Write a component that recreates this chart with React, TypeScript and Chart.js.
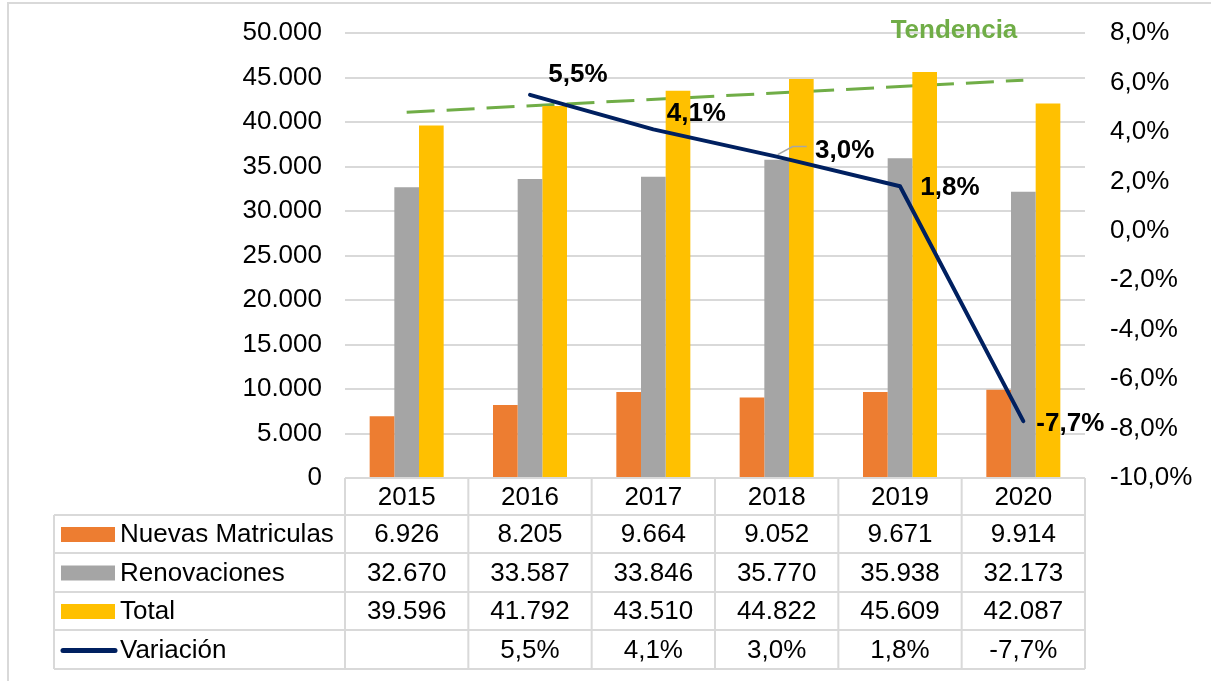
import React, { useEffect, useRef } from "react";
import { Chart, registerables } from "chart.js";
Chart.register(...registerables);

const years = ["2015", "2016", "2017", "2018", "2019", "2020"];
const nuevas = [6926, 8205, 9664, 9052, 9671, 9914];
const renovaciones = [32670, 33587, 33846, 35770, 35938, 32173];
const total = [39596, 41792, 43510, 44822, 45609, 42087];
const variacion: (number | null)[] = [null, 5.5, 4.1, 3.0, 1.8, -7.7];
// trendline end points (drawn straight between them)
const tendencia: (number | null)[] = [41100, null, null, null, null, 44700];
const seriesNames = ["Nuevas Matriculas", "Renovaciones", "Total", "Variación"];
const trendName = "Tendencia";

const FONT = "'Liberation Sans', Arial, sans-serif";
const C_ORANGE = "#ed7d31";
const C_GRAY = "#a5a5a5";
const C_YELLOW = "#ffc000";
const C_NAVY = "#002060";
const C_GREEN = "#70ad47";
const C_GRID = "#d9d9d9";

const labelOffsets: ([number, number] | null)[] = [null, [48, -20], [43, -16], [68, -6], [50, 2], [47, 3]];

const fmtThousands = (n: number) => String(n).replace(/\B(?=(\d{3})+(?!\d))/g, ".");
const fmtPct = (n: number) => n.toFixed(1).replace(".", ",") + "%";

const tablePlugin = {
  id: "tablePlugin",
  afterDatasetsDraw(chart: any) {
    const ctx = chart.ctx;
    const meta = chart.getDatasetMeta(3);
    ctx.save();
    ctx.font = `bold 26px ${FONT}`;
    ctx.fillStyle = "#000";
    ctx.textAlign = "center";
    ctx.textBaseline = "middle";
    meta.data.forEach((pt: any, i: number) => {
      const v = variacion[i];
      const off = labelOffsets[i];
      if (v == null || !off) return;
      if (i === 3) {
        ctx.strokeStyle = "#a6a6a6";
        ctx.lineWidth = 1.5;
        ctx.beginPath();
        ctx.moveTo(pt.x + 1, pt.y - 2);
        ctx.lineTo(pt.x + 16, pt.y - 10);
        ctx.lineTo(pt.x + 30, pt.y - 10);
        ctx.stroke();
      }
      ctx.fillText(fmtPct(v), pt.x + off[0], pt.y + off[1]);
    });
    // Tendencia label
    const xs = chart.scales.x;
    ctx.fillStyle = C_GREEN;
    ctx.fillText(trendName, xs.getPixelForValue(4) + 54, chart.chartArea.top - 2);
    ctx.restore();
  },
  afterDraw(chart: any) {
    const ctx = chart.ctx;
    const area = chart.chartArea;
    const colW = (area.right - area.left) / years.length;
    const tableLeft = 54;
    const top = area.bottom;
    const rows = [top, top + 37, top + 75, top + 114, top + 152, top + 191];
    ctx.save();
    ctx.strokeStyle = C_GRID;
    ctx.lineWidth = 2;
    // frame
    ctx.beginPath();
    ctx.moveTo(8, 681);
    ctx.lineTo(8, 3);
    ctx.lineTo(1211, 3);
    ctx.stroke();
    ctx.beginPath();
    ctx.moveTo(area.left, rows[0]);
    ctx.lineTo(area.right, rows[0]);
    for (let r = 1; r < rows.length; r++) {
      ctx.moveTo(tableLeft, rows[r]);
      ctx.lineTo(area.right, rows[r]);
    }
    ctx.moveTo(tableLeft, rows[1]);
    ctx.lineTo(tableLeft, rows[rows.length - 1]);
    for (let c = 0; c <= years.length; c++) {
      const x = area.left + c * colW;
      ctx.moveTo(x, rows[0]);
      ctx.lineTo(x, rows[rows.length - 1]);
    }
    ctx.stroke();

    ctx.fillStyle = "#000";
    ctx.font = `26px ${FONT}`;
    ctx.textBaseline = "middle";
    ctx.textAlign = "center";
    const mid = (r: number) => (rows[r] + rows[r + 1]) / 2 + 1;
    years.forEach((y, i) => ctx.fillText(y, area.left + (i + 0.5) * colW, mid(0)));
    const tableRows: { name: string; vals: (number | null)[]; fmt: (n: number) => string; color: string; line?: boolean }[] = [
      { name: seriesNames[0], vals: nuevas, fmt: fmtThousands, color: C_ORANGE },
      { name: seriesNames[1], vals: renovaciones, fmt: fmtThousands, color: C_GRAY },
      { name: seriesNames[2], vals: total, fmt: fmtThousands, color: C_YELLOW },
      { name: seriesNames[3], vals: variacion, fmt: fmtPct, color: C_NAVY, line: true },
    ];
    tableRows.forEach((row, r) => {
      const cy = mid(r + 1);
      if (row.line) {
        ctx.strokeStyle = row.color;
        ctx.lineWidth = 5;
        ctx.lineCap = "round";
        ctx.beginPath();
        ctx.moveTo(63, cy);
        ctx.lineTo(115, cy);
        ctx.stroke();
      } else {
        ctx.fillStyle = row.color;
        ctx.fillRect(61, cy - 8, 54, 15);
      }
      ctx.fillStyle = "#000";
      ctx.textAlign = "left";
      ctx.fillText(row.name, 120, cy);
      ctx.textAlign = "center";
      row.vals.forEach((v, i) => {
        if (v == null) return;
        ctx.fillText(row.fmt(v), area.left + (i + 0.5) * colW, cy);
      });
    });
    ctx.restore();
  },
};

export default function App() {
  const ref = useRef<HTMLCanvasElement | null>(null);
  useEffect(() => {
    if (!ref.current) return;
    const chart = new Chart(ref.current, {
      type: "bar",
      data: {
        labels: years,
        datasets: [
          { type: "bar", label: seriesNames[0], data: nuevas, backgroundColor: C_ORANGE, yAxisID: "y", order: 1, categoryPercentage: 0.6, barPercentage: 1 },
          { type: "bar", label: seriesNames[1], data: renovaciones, backgroundColor: C_GRAY, yAxisID: "y", order: 1, categoryPercentage: 0.6, barPercentage: 1 },
          { type: "bar", label: seriesNames[2], data: total, backgroundColor: C_YELLOW, yAxisID: "y", order: 1, categoryPercentage: 0.6, barPercentage: 1 },
          { type: "line", label: seriesNames[3], data: variacion, borderColor: C_NAVY, borderWidth: 4, pointRadius: 0, tension: 0, yAxisID: "y1", order: 0, borderCapStyle: "round", borderJoinStyle: "round" },
          { type: "line", label: trendName, data: tendencia, borderColor: C_GREEN, borderWidth: 3, borderDash: [28, 12], pointRadius: 0, spanGaps: true, yAxisID: "y", order: 2 },
        ] as any,
      },
      options: {
        animation: false,
        responsive: false,
        events: [],
        layout: { padding: { top: 33, bottom: 203, left: 0, right: 0 } },
        plugins: { legend: { display: false }, tooltip: { enabled: false } },
        scales: {
          x: { display: false, offset: true },
          y: {
            position: "left",
            min: 0,
            max: 50000,
            afterFit: (s: any) => { s.width = 345; s.paddingTop = 0; s.paddingBottom = 0; },
            ticks: { stepSize: 5000, padding: 23, color: "#000", font: { family: FONT, size: 26 }, callback: (v: any) => fmtThousands(Number(v)) },
            grid: { color: C_GRID, lineWidth: 2, drawTicks: false },
            border: { display: false },
          },
          y1: {
            position: "right",
            min: -10,
            max: 8,
            afterFit: (s: any) => { s.width = 126; s.paddingTop = 0; s.paddingBottom = 0; },
            ticks: { stepSize: 2, padding: 25, color: "#000", font: { family: FONT, size: 26 }, callback: (v: any) => fmtPct(Number(v)) },
            grid: { display: false, drawTicks: false },
            border: { display: false },
          },
        },
      } as any,
      plugins: [tablePlugin],
    });
    return () => chart.destroy();
  }, []);
  return (
    <div style={{ position: "fixed", left: 0, top: 0, width: 1211, height: 681, background: "#fff" }}>
      <canvas ref={ref} width={1211} height={681} style={{ display: "block" }} />
    </div>
  );
}
